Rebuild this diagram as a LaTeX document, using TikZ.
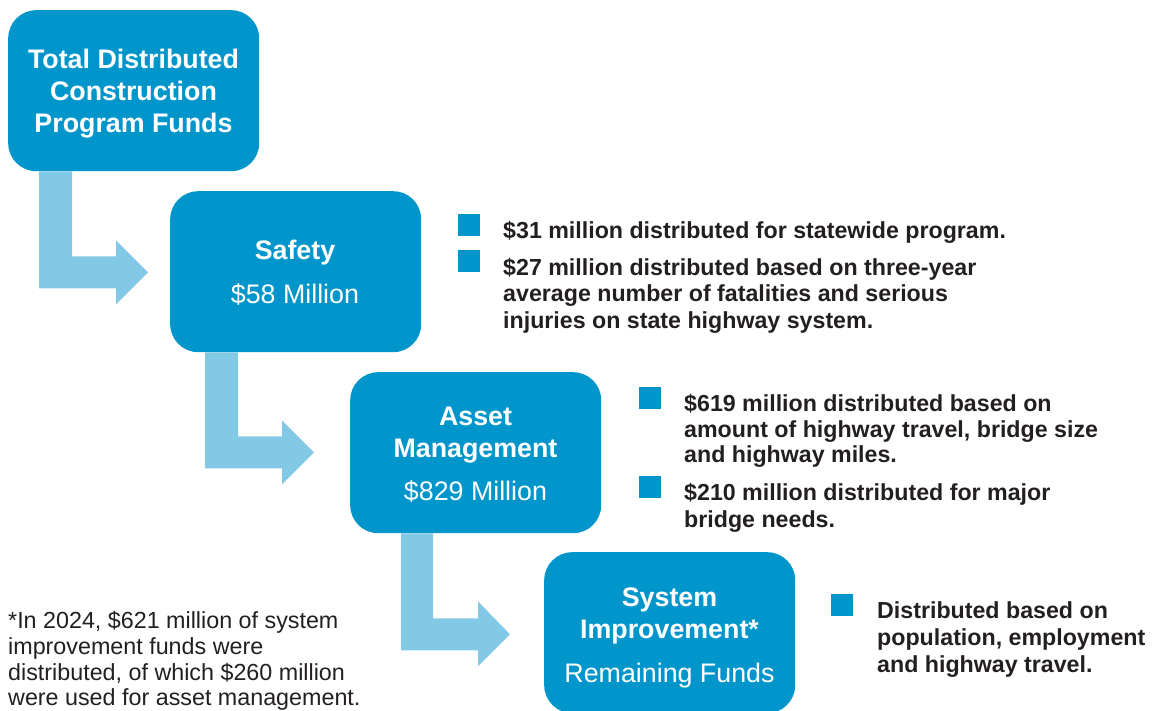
\documentclass[tikz,border=0pt]{standalone}
\usepackage{fontspec}
\setmainfont{Liberation Sans}
\usetikzlibrary{calc}
\definecolor{boxblue}{HTML}{0096CC}
\definecolor{arrowblue}{HTML}{82C9E5}
\definecolor{txtdark}{HTML}{231F20}
\begin{document}
\begin{tikzpicture}[x=1pt,y=-1pt,
  fundbox/.style={fill=boxblue,draw=none,rounded corners=28pt,minimum width=251pt,minimum height=161pt,anchor=north west,inner sep=0pt},
  titletxt/.style={anchor=base,text=white,font=\fontsize{26.8}{32}\selectfont\bfseries,inner sep=0pt},
  amounttxt/.style={anchor=base,text=white,font=\fontsize{26.8}{32}\selectfont,inner sep=0pt},
  bultxt/.style={anchor=base west,text=txtdark,font=\fontsize{23.2}{26}\selectfont\bfseries,inner sep=0pt},
  notetxt/.style={anchor=base west,text=txtdark,font=\fontsize{23.3}{26}\selectfont,inner sep=0pt},
  bulsq/.style={fill=boxblue,draw=none,minimum size=22pt,inner sep=0pt,anchor=north west},
  flow/.style={fill=arrowblue,draw=none}
]
\useasboundingbox (0,0) rectangle (1154,711);

% boxes
\node[fundbox] (b1) at (8,10) {};
\node[fundbox] (b2) at (170,191) {};
\node[fundbox] (b3) at (350,372) {};
\node[fundbox] (b4) at (544,552) {};

% arrows
\fill[flow] ($(b1.south west)+(31,0)$) -- ++(33,0) -- ++(0,85) -- ++(44,0) -- ++(0,-16) -- ++(32,32) -- ++(-32,32) -- ++(0,-16) -- ++(-77,0) -- cycle;
\fill[flow] ($(b2.south west)+(35,0)$) -- ++(33,0) -- ++(0,84) -- ++(44,0) -- ++(0,-16) -- ++(32,32) -- ++(-32,32) -- ++(0,-16) -- ++(-77,0) -- cycle;
\fill[flow] ($(b3.south west)+(51,0)$) -- ++(32,0) -- ++(0,85) -- ++(45,0) -- ++(0,-17) -- ++(32,33) -- ++(-32,32) -- ++(0,-16) -- ++(-77,0) -- cycle;

% box texts
\node[titletxt] (t1a) at (133.5,69) {Total Distributed};
\node[titletxt] (t1b) at (133.5,101) {Construction};
\node[titletxt] (t1c) at (133.5,133) {Program Funds};

\node[titletxt] (t2a) at (295,260) {Safety};
\node[amounttxt] (t2b) at (295,304) {\$58 Million};

\node[titletxt] (t3a) at (475.5,425) {Asset};
\node[titletxt] (t3b) at (475.5,457) {Management};
\node[amounttxt] (t3c) at (475.5,500) {\$829 Million};

\node[titletxt] (t4a) at (669.5,606) {System};
\node[titletxt] (t4b) at (669.5,638) {Improvement*};
\node[amounttxt] (t4c) at (669.5,682) {Remaining Funds};

% safety bullets
\node[bulsq] (q1) at (458,214) {};
\node[bulsq] (q2) at (458,250) {};
\node[bultxt] (s1) at (503,239) {\$31 million distributed for statewide program.};
\node[bultxt] (s2a) at (503,276) {\$27 million distributed based on three-year};
\node[bultxt] (s2b) at (503,302) {average number of fatalities and serious};
\node[bultxt] (s2c) at (503,328) {injuries on state highway system.};

% asset bullets
\node[bulsq] (q3) at (639,387) {};
\node[bulsq] (q4) at (639,476) {};
\node[bultxt] (a1a) at (684,411) {\$619 million distributed based on};
\node[bultxt] (a1b) at (684,437) {amount of highway travel, bridge size};
\node[bultxt] (a1c) at (684,462) {and highway miles.};
\node[bultxt] (a2a) at (684,500) {\$210 million distributed for major};
\node[bultxt] (a2b) at (684,527) {bridge needs.};

% system bullets
\node[bulsq] (q5) at (831,594) {};
\node[bultxt] (c1a) at (877,618) {Distributed based on};
\node[bultxt] (c1b) at (877,645) {population, employment};
\node[bultxt] (c1c) at (877,672) {and highway travel.};

% footnote
\node[notetxt] (n1) at (8,628) {*In 2024, \$621 million of system};
\node[notetxt] (n2) at (8,654) {improvement funds were};
\node[notetxt] (n3) at (8,680) {distributed, of which \$260 million};
\node[notetxt] (n4) at (8,705) {were used for asset management.};
\end{tikzpicture}
\end{document}
